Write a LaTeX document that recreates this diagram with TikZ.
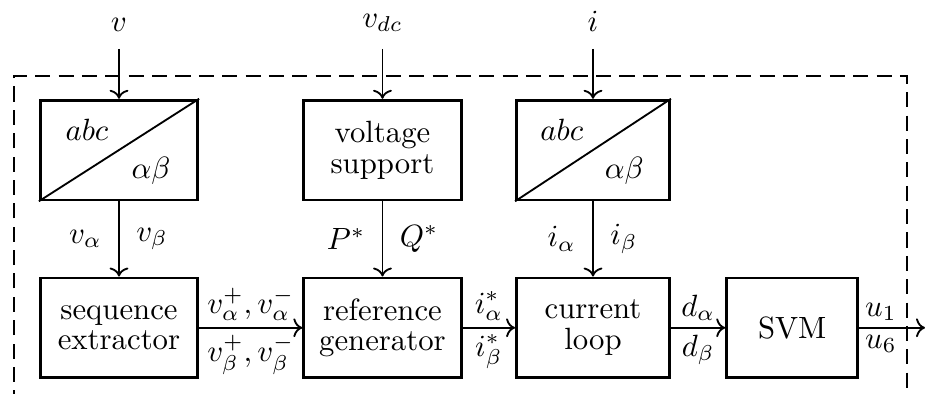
\documentclass[tikz,border=0pt]{standalone}
\usetikzlibrary{arrows.meta,positioning,calc}
\tikzset{>=To}

\begin{document}
\begin{tikzpicture}[
    block/.style={draw, line width=0.9pt, minimum width=1.8cm, minimum height=1.14cm, align=center, inner sep=1pt},
    sig/.style={->, semithick},
    lbl/.style={inner sep=1pt},
    node distance=0.6cm
  ]
    \useasboundingbox (0,0) rectangle (10.573,-4.503);
    \draw[line width=0.9pt, dash pattern=on 4.9pt off 2.7pt] (0.16,-4.9) |- (10.367,-0.869) -- (10.367,-4.9);
    \node[block] (vtrans) at (1.36,-1.715) {};
    \node[block, right=1.18cm of vtrans] (vsup) {voltage\\[-2pt]support};
    \node[block, minimum width=1.75cm, right=of vsup] (itrans) {};
    \node[block, below=0.86cm of vtrans] (seq) {sequence\\[-2pt]extractor};
    \node[block, below=0.86cm of vsup] (ref) {reference\\[-2pt]generator};
    \node[block, minimum width=1.75cm, below=0.86cm of itrans] (cloop) {current\\[-2pt]loop};
    \node[block, minimum width=1.5cm, right=0.62cm of cloop] (svm) {SVM};
    \draw[semithick] (vtrans.south west) -- (vtrans.north east);
    \draw[semithick] (itrans.south west) -- (itrans.north east);
    \node at ($(vtrans.north west)!0.3!(vtrans.south east)$) {$abc$};
    \node at ($(vtrans.north west)!0.7!(vtrans.south east)$) {$\alpha\beta$};
    \node at ($(itrans.north west)!0.3!(itrans.south east)$) {$abc$};
    \node at ($(itrans.north west)!0.7!(itrans.south east)$) {$\alpha\beta$};
    \coordinate[above=0.57cm of vtrans] (vin);
    \coordinate[above=0.57cm of vsup] (vdcin);
    \coordinate[above=0.57cm of itrans] (iin);
    \coordinate (uout) at (10.573,0 |- svm);
    \node[above=2pt of vin] {$v$};
    \node[above=2pt of vdcin] {$v_{dc}$};
    \node[above=2pt of iin] {$i$};
    \draw[sig] (vin) -- (vtrans);
    \draw[sig] (vdcin) -- (vsup);
    \draw[sig] (iin) -- (itrans);
    \draw[sig] (vtrans) -- node[left=2pt] {$v_\alpha$} node[right=2pt] {$v_\beta$} (seq);
    \draw[sig] (vsup) -- node[left=2pt] {$P^*$} node[right=2pt] {$Q^*$} (ref);
    \draw[sig] (itrans) -- node[left=2pt] {$i_\alpha$} node[right=2pt] {$i_\beta$} (cloop);
    \draw[sig] (seq) -- node[lbl, above=1pt] {$v_\alpha^+,v_\alpha^-$} node[lbl, below=1pt] {$v_\beta^+,v_\beta^-$} (ref);
    \draw[sig] (ref) -- node[lbl, above=1pt] {$i_\alpha^*$} node[lbl, below=1pt] {$i_\beta^*$} (cloop);
    \draw[sig] (cloop) -- node[lbl, above=1pt] {$d_\alpha$} node[lbl, below=1pt] {$d_\beta$} (svm);
    \draw[sig] (svm) -- node[lbl, above=1pt, pos=0.33] {$u_1$} node[lbl, below=1pt, pos=0.33] {$u_6$} (uout);
  \end{tikzpicture}
\end{document}
